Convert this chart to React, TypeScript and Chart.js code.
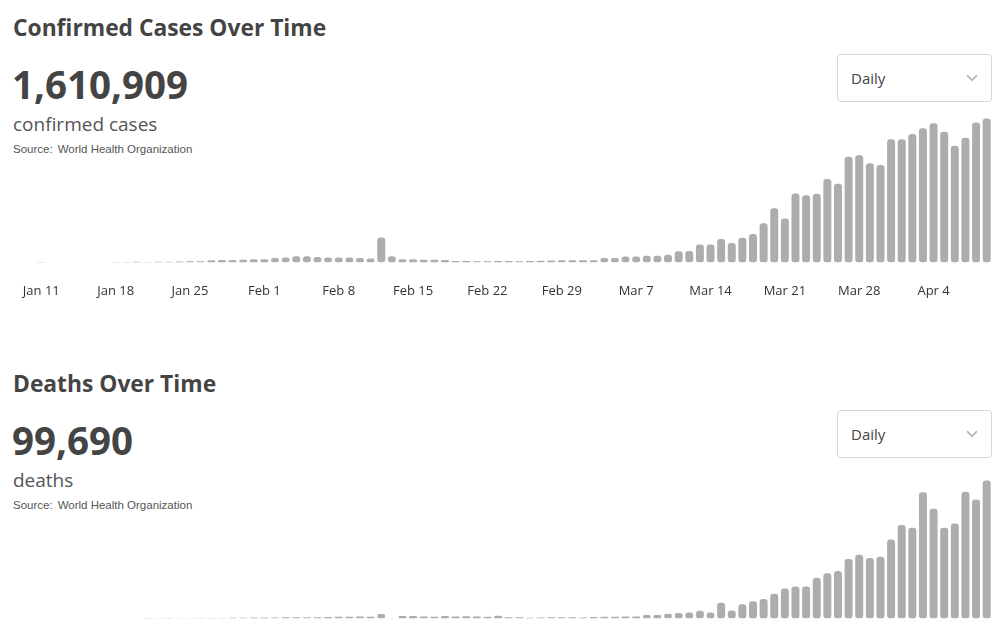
import React, { useEffect, useRef } from "react";
import { Chart, registerables } from "chart.js";

Chart.register(...registerables);

// Categories: one bar per day, Jan 11 – Apr 9
const dates: string[] = [
  "Jan 11", "Jan 12", "Jan 13", "Jan 14", "Jan 15", "Jan 16", "Jan 17", "Jan 18", "Jan 19", "Jan 20",
  "Jan 21", "Jan 22", "Jan 23", "Jan 24", "Jan 25", "Jan 26", "Jan 27", "Jan 28", "Jan 29", "Jan 30",
  "Jan 31", "Feb 1", "Feb 2", "Feb 3", "Feb 4", "Feb 5", "Feb 6", "Feb 7", "Feb 8", "Feb 9",
  "Feb 10", "Feb 11", "Feb 12", "Feb 13", "Feb 14", "Feb 15", "Feb 16", "Feb 17", "Feb 18", "Feb 19",
  "Feb 20", "Feb 21", "Feb 22", "Feb 23", "Feb 24", "Feb 25", "Feb 26", "Feb 27", "Feb 28", "Feb 29",
  "Mar 1", "Mar 2", "Mar 3", "Mar 4", "Mar 5", "Mar 6", "Mar 7", "Mar 8", "Mar 9", "Mar 10",
  "Mar 11", "Mar 12", "Mar 13", "Mar 14", "Mar 15", "Mar 16", "Mar 17", "Mar 18", "Mar 19", "Mar 20",
  "Mar 21", "Mar 22", "Mar 23", "Mar 24", "Mar 25", "Mar 26", "Mar 27", "Mar 28", "Mar 29", "Mar 30",
  "Mar 31", "Apr 1", "Apr 2", "Apr 3", "Apr 4", "Apr 5", "Apr 6", "Apr 7", "Apr 8", "Apr 9",
];

// Tick labels shown on the x axis
const tickLabels: string[] = [
  "Jan 11", "Jan 18", "Jan 25", "Feb 1", "Feb 8", "Feb 15", "Feb 22",
  "Feb 29", "Mar 7", "Mar 14", "Mar 21", "Mar 28", "Apr 4",
];

// Daily new confirmed cases
const confirmedDaily: number[] = [
  250, 0, 0, 0, 0, 0, 0, 250, 300, 350,
  300, 400, 450, 600, 700, 750, 1400, 1450, 1500, 1700,
  1900, 2000, 2700, 3100, 3900, 3900, 3400, 3100, 3100, 3000,
  2800, 2400, 15600, 3900, 2000, 1900, 1700, 1600, 1500, 900,
  800, 700, 700, 800, 800, 700, 900, 1000, 1200, 1400,
  1400, 1400, 1400, 2700, 2700, 3700, 3700, 4200, 4200, 4800,
  6900, 7100, 11200, 11200, 14600, 12100, 15400, 17700, 24400, 33800,
  27500, 43100, 41900, 42900, 52100, 49200, 66100, 66900, 61900, 60800,
  76900, 76900, 80200, 83900, 86900, 81700, 72900, 77900, 87500, 90000,
];

// Daily new deaths
const deathsDaily: number[] = [
  0, 0, 0, 0, 0, 0, 0, 0, 0, 0,
  17, 8, 16, 15, 15, 24, 26, 26, 38, 43,
  46, 45, 57, 64, 66, 73, 73, 86, 89, 97,
  108, 97, 254, 13, 143, 142, 105, 98, 136, 115,
  118, 109, 97, 150, 71, 64, 37, 58, 67, 72,
  70, 53, 80, 95, 100, 110, 105, 190, 190, 270,
  305, 345, 440, 345, 900, 460, 820, 980, 1110, 1420,
  1725, 1840, 1840, 2340, 2590, 2720, 3410, 3660, 3470, 3550,
  4540, 5365, 5215, 7260, 6310, 5215, 5460, 7285, 6840, 7935,
];

const confirmedTotal = "1,610,909";
const deathsTotal = "99,690";

const BAR_COLOR = "#adadad";
const SANS = "'Open Sans', 'Noto Sans', sans-serif";

function DailyBars({ values, max, top }: { values: number[]; max: number; top: number }) {
  const ref = useRef<HTMLCanvasElement | null>(null);
  useEffect(() => {
    if (!ref.current) return;
    const chart = new Chart(ref.current, {
      type: "bar",
      data: {
        labels: dates,
        datasets: [
          {
            data: values,
            backgroundColor: BAR_COLOR,
            borderRadius: 3,
            borderSkipped: false,
            barPercentage: 0.75,
            categoryPercentage: 1,
          },
        ],
      },
      options: {
        animation: false,
        responsive: false,
        maintainAspectRatio: false,
        events: [],
        layout: { padding: { left: 36, right: 8, top: 12, bottom: 0 } },
        plugins: { legend: { display: false }, tooltip: { enabled: false } },
        scales: {
          x: {
            grid: { display: false, drawTicks: false },
            border: { display: false },
            ticks: {
              autoSkip: false,
              maxRotation: 0,
              minRotation: 0,
              padding: 21,
              color: "#333",
              font: { family: "'Open Sans'", size: 13 },
              callback: (_v: any, i: number) => (tickLabels.includes(dates[i]) ? dates[i] : null),
            },
          },
          y: { display: false, min: 0, max },
        },
      },
    });
    return () => chart.destroy();
  }, [values, max]);
  return (
    <canvas
      ref={ref}
      width={1000}
      height={220}
      style={{ position: "absolute", left: 0, top, width: 1000, height: 220 }}
    />
  );
}

function Dropdown({ top }: { top: number }) {
  return (
    <div
      style={{
        position: "absolute",
        left: 837,
        top,
        width: 155,
        height: 48,
        boxSizing: "border-box",
        border: "1px solid #d6d6d6",
        borderRadius: 4,
        background: "#fff",
      }}
    >
      <div
        style={{
          position: "absolute",
          left: 13,
          top: 16,
          fontFamily: SANS,
          fontSize: 15,
          lineHeight: "15px",
          color: "#444",
        }}
      >
        Daily
      </div>
      <svg
        width={12}
        height={8}
        style={{ position: "absolute", left: 128, top: 19 }}
        viewBox="0 0 12 8"
      >
        <polyline points="1,1.2 6,6.2 11,1.2" fill="none" stroke="#b8b8b8" strokeWidth={1.8} />
      </svg>
    </div>
  );
}

function Section({
  offset,
  title,
  total,
  unit,
  values,
  max,
}: {
  offset: number;
  title: string;
  total: string;
  unit: string;
  values: number[];
  max: number;
}) {
  return (
    <>
      <div
        style={{
          position: "absolute",
          left: 13,
          top: 16 + offset,
          fontFamily: SANS,
          fontWeight: 700,
          fontSize: 22.8,
          lineHeight: "23px",
          color: "#444",
          whiteSpace: "nowrap",
        }}
      >
        {title}
      </div>
      <div
        style={{
          position: "absolute",
          left: 12,
          top: 65 + offset,
          fontFamily: SANS,
          fontWeight: 700,
          fontSize: 38.5,
          lineHeight: "39px",
          color: "#444",
          whiteSpace: "nowrap",
        }}
      >
        {total}
      </div>
      <div
        style={{
          position: "absolute",
          left: 13,
          top: 115 + offset,
          fontFamily: SANS,
          fontSize: 19,
          lineHeight: "19px",
          color: "#555",
          whiteSpace: "nowrap",
        }}
      >
        {unit}
      </div>
      <div
        style={{
          position: "absolute",
          left: 13,
          top: 143 + offset,
          fontFamily: "'Liberation Sans', Arial, sans-serif",
          fontSize: 11.5,
          lineHeight: "12px",
          color: "#555",
          whiteSpace: "nowrap",
        }}
      >
        Source:<span style={{ marginLeft: 5 }}>World Health Organization</span>
      </div>
      <Dropdown top={54 + offset} />
      <DailyBars values={values} max={max} top={100 + offset} />
    </>
  );
}

export default function App() {
  return (
    <div
      style={{
        position: "absolute",
        left: 0,
        top: 0,
        width: 1000,
        height: 626,
        overflow: "hidden",
        background: "#fff",
      }}
    >
      <Section
        offset={0}
        title="Confirmed Cases Over Time"
        total={confirmedTotal}
        unit="confirmed cases"
        values={confirmedDaily}
        max={94000}
      />
      <Section
        offset={356}
        title="Deaths Over Time"
        total={deathsTotal}
        unit="deaths"
        values={deathsDaily}
        max={8650}
      />
    </div>
  );
}
